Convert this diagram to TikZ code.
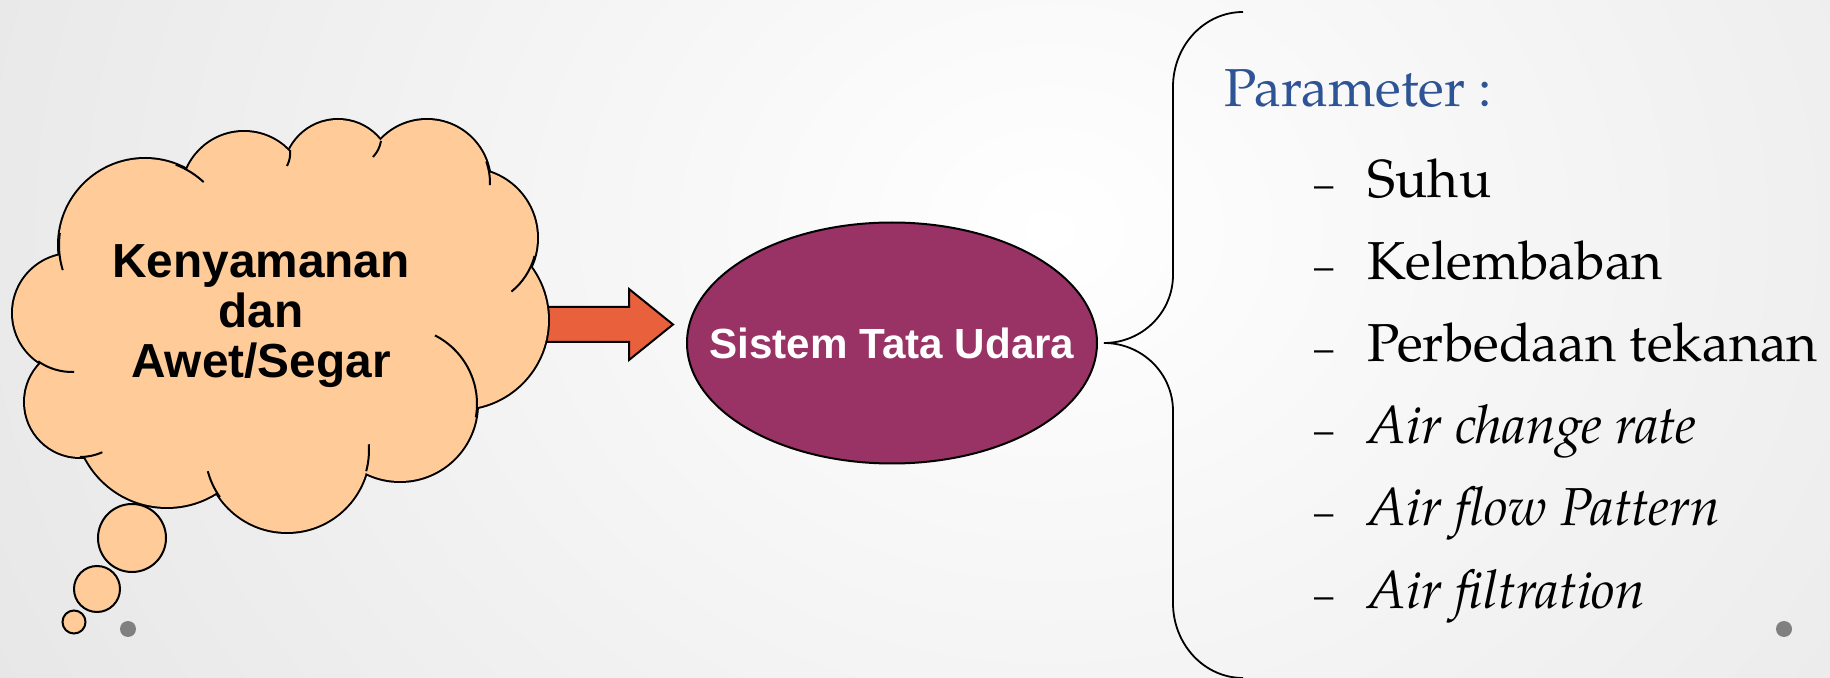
\documentclass[tikz,border=0pt]{standalone}
\usepackage{fontspec}
\usepackage{tikz}
\usetikzlibrary{shapes.geometric,calc}
\newfontfamily\armfont{Liberation Sans}
\newfontfamily\palfont{TeX Gyre Pagella}
\definecolor{CloudFill}{RGB}{255,204,153}
\definecolor{PlumFill}{RGB}{153,51,102}
\definecolor{ArrowRed}{RGB}{233,96,61}
\definecolor{ParBlue}{RGB}{46,84,150}
\definecolor{DotGrey}{RGB}{128,128,128}
% puffs of the cloud: centre x / centre y / radius
\newcommand\cloudpuffs{145/245/86, 244/194/62, 338/174/54, 427/183/63, 468/238/69, 459/320/89, 400/404/77, 287/450/82, 167/415/92, 80/402/55, 72/313/59}

\begin{document}
\begin{tikzpicture}[x=0.1mm,y=0.1mm,
puff/.style={fill=CloudFill,draw=black,line width=0.2mm},
edge/.style={draw=black,line width=0.2mm},
sysnd/.style={ellipse,draw=black,line width=0.2mm,fill=PlumFill,minimum width=41mm,minimum height=24.1mm,inner sep=0pt},
systxt/.style={inner sep=0pt,text=white,font=\armfont\bfseries\fontsize{12}{14}\selectfont},
dsh/.style={anchor=base west,inner sep=0pt,font=\palfont\fontsize{11}{13}\selectfont},
itm/.style={anchor=base west,inner sep=0pt,font=\palfont\fontsize{15.2}{18}\selectfont},
dot/.style={fill=DotGrey}
]
\useasboundingbox (0,0) rectangle (1830,-678);
\begin{scope}
\clip (0,0) rectangle (1830,-678);
\shade[inner color=white,outer color=black!19] (-1350,1770) rectangle (3450,-2230);
\end{scope}

% block arrow, tail tucked under the cloud
\coordinate (tail) at (530,-324.5);
\coordinate (tip) at (673,-324.5);
\draw[edge,fill=ArrowRed] ($(tail)+(0,17.5)$) -| ($(tip)+(-44,35.5)$) -- (tip) -- ($(tip)+(-44,-35.5)$) |- ($(tail)+(0,-17.5)$) -- cycle;

% cloud: thick rims first, then fill over them so only the outer edge stays
\foreach \cx/\cy/\r in \cloudpuffs {
  \pgfmathsetmacro\rr{\r/10}
  \draw[line width=0.4mm,fill=CloudFill] (\cx,-\cy) circle[radius=\rr mm];
}
\fill[CloudFill] (280,-320) ellipse[x radius=18mm,y radius=13mm];
\foreach \cx/\cy/\r in \cloudpuffs {
  \pgfmathsetmacro\rr{\r/10}
  \fill[CloudFill] (\cx,-\cy) circle[radius=\rr mm];
}
% inner strokes between puffs
\draw[edge] (145,-245) ++(172:8.6mm) arc[start angle=172,end angle=197,radius=8.6mm];
\draw[edge] (145,-245) ++(69:8.6mm) arc[start angle=69,end angle=47,radius=8.6mm];
\draw[edge] (290,-150) to[bend left=15] (287,-166);
\draw[edge] (381,-141) to[bend left=15] (373,-157);
\draw[edge] (427,-183) ++(20:6.3mm) arc[start angle=20,end angle=-2,radius=6.3mm];
\draw[edge] (468,-238) ++(-15:6.9mm) arc[start angle=-15,end angle=-51,radius=6.9mm];
\draw[edge] (400,-404) ++(63:7.7mm) arc[start angle=63,end angle=-10,radius=7.7mm];
\draw[edge] (287,-450) ++(-15:8.2mm) arc[start angle=-15,end angle=4,radius=8.2mm];
\draw[edge] (287,-450) ++(215:8.2mm) arc[start angle=215,end angle=195,radius=8.2mm];
\draw[edge] (80,-402) ++(-90:5.5mm) arc[start angle=-90,end angle=-66,radius=5.5mm];
\draw[edge] (72,-313) ++(235:5.9mm) arc[start angle=235,end angle=272,radius=5.9mm];

% thought bubbles
\draw[puff] (132,-538) circle[radius=3.4mm];
\draw[puff] (97,-589) circle[radius=2.3mm];
\draw[puff] (74,-622) circle[radius=1.15mm];

\node[font=\armfont\bfseries\fontsize{13.6}{14.2}\selectfont,align=center,inner sep=0pt] (comfort) at (261,-316) {Kenyamanan\\dan\\Awet/Segar};
\node[sysnd] (sys) at (892,-343) {};
\node[systxt] (systext) at (sys.center) {Sistem Tata Udara};

% brace from the ellipse out to the list
\coordinate (btip) at ($(sys.east)+(6,0)$);
\draw[edge,line width=0.18mm] (btip) arc[start angle=-90,end angle=0,x radius=6.9mm,y radius=6.8mm] -- ++(0,188) arc[start angle=180,end angle=90,x radius=7mm,y radius=7.5mm];
\draw[edge,line width=0.18mm] (btip) arc[start angle=90,end angle=0,x radius=6.9mm,y radius=6.8mm] -- ++(0,-192) arc[start angle=180,end angle=270,x radius=7mm,y radius=7.5mm];

\node[itm,text=ParBlue] (par) at (1224,-107) {Parameter :};
\foreach \y/\t [count=\i] in {198/Suhu, 280/Kelembaban, 362/Perbedaan tekanan, 444/\textit{Air change rate}, 526/\textit{Air flow Pattern}, 608/\textit{Air filtration}} {
  \node[dsh] (d\i) at (1314,-\y) {–};
  \node[itm] (p\i) at (1367,-\y) {\t};
}

\fill[dot] (128,-629) circle[radius=0.8mm];
\fill[dot] (1784,-629) circle[radius=0.8mm];
\end{tikzpicture}
\end{document}
